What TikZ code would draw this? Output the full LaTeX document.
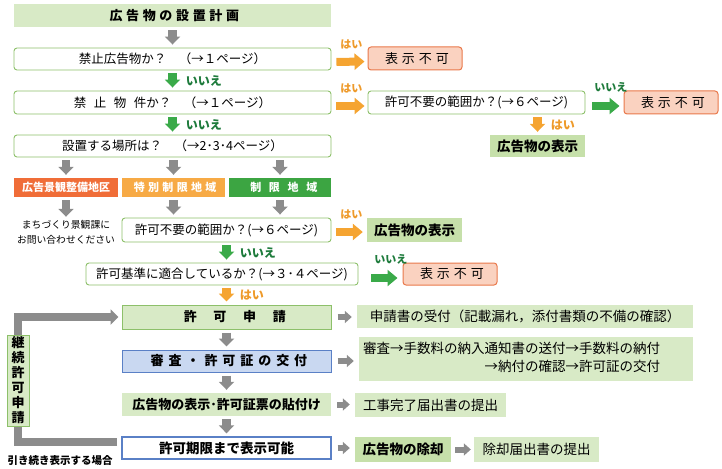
\documentclass[tikz,border=0pt]{standalone}
\usepackage{fontspec}
\setmainfont{Noto Sans CJK JP}
\usepackage{xcolor}
\definecolor{panel-green}{HTML}{D8EAC6}
\definecolor{panel-deep}{HTML}{C6E0AA}
\definecolor{ask-line}{HTML}{8DC06A}
\definecolor{deny-fill}{HTML}{FAD2C0}
\definecolor{deny-line}{HTML}{E9784A}
\definecolor{zone-red}{HTML}{F06D38}
\definecolor{zone-orange}{HTML}{F7AA45}
\definecolor{zone-green}{HTML}{3CA542}
\definecolor{flow-gray}{HTML}{8C8C8C}
\definecolor{flow-orange}{HTML}{F5A431}
\definecolor{flow-green}{HTML}{3AAA49}
\definecolor{tag-green}{HTML}{1E7B3C}
\definecolor{tag-orange}{HTML}{EE9A2A}
\definecolor{check-fill}{HTML}{C9D8F1}
\definecolor{check-line}{HTML}{5A80C6}
\usepackage{tikz}
\usetikzlibrary{arrows.meta}

% letter spaced text, trailing space taken back
\newcommand\spread[2]{{\addfontfeature{LetterSpace=#1}#2\kern-\dimexpr 1em*#1/100\relax}}
\newcommand\fs[1]{\fontsize{#1}{#1}\selectfont}

\tikzset{
  title-box/.style={fill=panel-green, minimum width=317pt, minimum height=23pt, inner sep=0pt, font=\fs{13}\bfseries},
  ask/.style={draw=ask-line, line width=0.9pt, fill=white, rounded corners=3pt, minimum height=22pt, inner sep=0pt, font=\fs{12.5}},
  deny/.style={draw=deny-line, line width=1pt, fill=deny-fill, rounded corners=3pt, minimum width=94pt, minimum height=23pt, inner sep=0pt, font=\fs{13}},
  shown/.style={fill=panel-deep, minimum width=95pt, minimum height=22pt, inner sep=0pt, font=\fs{13.5}\bfseries},
  zone/.style={minimum width=103pt, minimum height=19pt, inner sep=0pt, text=white, font=\fs{11}\bfseries},
  stage/.style={minimum width=209pt, minimum height=23pt, inner sep=0pt, font=\fs{13}\bfseries},
  memo/.style={fill=panel-green, minimum height=24pt, inner sep=0pt, font=\fs{13.5}},
  down-gray/.style={draw=flow-gray, line width=8.5pt, -{Triangle[length=8pt,width=15pt]}, shorten <=3pt, shorten >=3pt},
  down-green/.style={down-gray, draw=flow-green},
  down-orange/.style={down-gray, draw=flow-orange},
  side-orange/.style={draw=flow-orange, line width=8pt, -{Triangle[length=10pt,width=16pt]}, shorten <=5pt, shorten >=3pt},
  side-green/.style={side-orange, draw=flow-green},
  side-gray/.style={draw=flow-gray, line width=6pt, -{Triangle[length=7pt,width=12pt]}, shorten <=6pt, shorten >=5pt},
  yes-tag/.style={text=tag-orange, inner sep=0pt, font=\fs{11}\bfseries},
  no-tag/.style={text=tag-green, inner sep=0pt, font=\fs{11}\bfseries},
}

\begin{document}
\begin{tikzpicture}[x=1pt, y=-1pt]

    \useasboundingbox (0,0) rectangle (722,468);

    % Title
    \node[title-box] (plan) at (172.5,15.5) {\spread{28}{広告物の設置計画}};

    % Questions
    \node[ask, minimum width=317pt] (banned-ad) at (172.5,59) {禁止広告物か？　（→１ページ）};
    \node[ask, minimum width=317pt, minimum height=23pt] (banned-item) at (172.5,102.5) {{\addfontfeature{LetterSpace=60}禁止物件}か？　（→１ページ）};
    \node[ask, minimum width=317pt] (site) at (172.5,146) {設置する場所は？　（→2･3･4ページ）};
    \node[ask, minimum width=217pt, minimum height=23pt] (exempt-a) at (476.5,102.5) {許可不要の範囲か？(→６ページ)};
    \node[ask, minimum width=209pt, minimum height=24pt] (exempt-b) at (226.5,230) {許可不要の範囲か？(→６ページ)};
    \node[ask, minimum width=272pt] (criteria) at (222,274) {許可基準に適合しているか？(→３･４ページ)};

    % Results
    \node[deny] (deny-a) at (415,58.5) {\spread{30}{表示不可}};
    \node[deny] (deny-b) at (671,102.5) {\spread{30}{表示不可}};
    \node[deny, minimum height=22pt] (deny-c) at (450,274) {\spread{30}{表示不可}};
    \node[shown] (shown-a) at (537.5,146) {広告物の表示};
    \node[shown, minimum height=24pt] (shown-b) at (414.5,230) {広告物の表示};

    % Zones
    \node[zone, fill=zone-red, minimum width=104pt] (zone-a) at (66,187.5) {広告景観整備地区};
    \node[zone, fill=zone-orange] (zone-b) at (173.5,187.5) {\spread{30}{特別制限地域}};
    \node[zone, fill=zone-green, minimum width=102pt] (zone-c) at (280,187.5) {\spread{70}{制限地域}};
    \node[align=center, inner sep=0pt, font=\fontsize{9.8}{15}\selectfont] (ask-city) at (66,232) {まちづくり景観課に\\お問い合わせください};

    % Permit steps
    \node[stage, fill=panel-green, draw=ask-line, line width=1pt, minimum height=24pt] (permit-req) at (226.5,317) {\spread{128}{許可申請}};
    \node[stage, fill=check-fill, draw=check-line, line width=1pt, minimum height=22pt] (review) at (226.5,361) {\spread{38}{審査・許可証の交付}};
    \node[stage, fill=panel-green] (posting) at (226.5,404.5) {広告物の表示･許可証票の貼付け};
    \node[stage, fill=white, draw=check-line, line width=1.3pt, minimum height=22pt, font=\fs{13.5}\bfseries] (until) at (226.5,448) {許可期限まで表示可能};

    % Notes on the right
    \node[memo, minimum width=336pt, minimum height=23pt] (intake) at (525,316.5) {申請書の受付（記載漏れ，添付書類の不備の確認）};
    \node[memo, text width=326pt, inner xsep=4pt, minimum height=44pt, align=left, font=\fontsize{13.5}{18.5}\selectfont] (fee-steps) at (526,359)
      {\begin{tabular}{@{}r@{}}審査→手数料の納入通知書の送付→手数料の納付\\→納付の確認→許可証の交付\end{tabular}};
    \node[memo, minimum width=151pt] (done) at (430.5,405) {工事完了届出書の提出};
    \node[memo, fill=panel-deep, minimum width=96pt, minimum height=25pt, font=\fs{13.5}\bfseries] (removal) at (403,449.5) {広告物の除却};
    \node[memo, minimum width=125pt, minimum height=25pt] (removal-doc) at (536.5,449.5) {除却届出書の提出};

    % Main column arrows
    \draw[down-gray] (plan) -- (banned-ad);
    \draw[down-green] (banned-ad) -- (banned-item) node[no-tag, font=\fs{12}\bfseries, midway, right=9pt] {いいえ};
    \draw[down-green] (banned-item) -- (site) node[no-tag, font=\fs{12}\bfseries, midway, right=9pt] {いいえ};
    \draw[down-gray] (site.south -| zone-a.north) -- (zone-a);
    \draw[down-gray] (site.south -| zone-b.north) -- (zone-b);
    \draw[down-gray] (site.south -| zone-c.north) -- (zone-c);
    \draw[down-gray] (zone-a) -- (ask-city);
    \draw[down-gray] (zone-b.south) -- (zone-b.south |- exempt-b.north);
    \draw[down-gray] (zone-c.south) -- (zone-c.south |- exempt-b.north);
    \draw[down-green] (exempt-b.south) -- (exempt-b.south |- criteria.north) node[no-tag, font=\fs{12}\bfseries, midway, right=9pt] {いいえ};
    \draw[down-orange] (permit-req.north |- criteria.south) -- (permit-req) node[yes-tag, font=\fs{12}\bfseries, midway, right=9pt] {はい};
    \draw[down-gray] (permit-req) -- (review);
    \draw[down-gray] (review) -- (posting);
    \draw[down-gray] (posting) -- (until);

    % Side arrows
    \draw[side-orange] ([yshift=-3pt]banned-ad.east) -- ([yshift=-3pt]deny-a.west) node[yes-tag, pos=0, anchor=south west, xshift=5pt, yshift=9pt] {はい};
    \draw[side-orange] ([yshift=-3.5pt]banned-item.east) -- ([yshift=-3.5pt]exempt-a.west) node[yes-tag, pos=0, anchor=south west, xshift=5pt, yshift=9pt] {はい};
    \draw[side-green, shorten <=7pt, shorten >=4pt] ([yshift=-3.5pt]exempt-a.east) -- ([yshift=-3.5pt]deny-b.west) node[no-tag, pos=0, anchor=south west, xshift=5pt, yshift=10pt] {いいえ};
    \draw[down-orange] (exempt-a.south -| shown-a.north) -- (shown-a) node[yes-tag, font=\fs{12}\bfseries, midway, right=9pt] {はい};
    \draw[side-orange, shorten >=4pt] ([yshift=-2pt]exempt-b.east) -- ([yshift=-2pt]shown-b.west) node[yes-tag, pos=0, anchor=south west, xshift=5pt, yshift=9pt] {はい};
    \draw[side-green, shorten <=13pt, shorten >=5pt] ([yshift=-4pt]criteria.east) -- ([yshift=-4pt]deny-c.west) node[no-tag, pos=0, anchor=south west, xshift=12pt, yshift=10pt] {いいえ};
    \draw[side-gray] (permit-req) -- (permit-req -| intake.west);
    \draw[side-gray] (review.east) -- (review.east -| fee-steps.west);
    \draw[side-gray] (posting.east) -- (posting.east -| done.west);
    \draw[side-gray] (until.east) -- (until.east -| removal.west);
    \draw[side-gray, shorten <=4pt, shorten >=3pt] (removal) -- (removal-doc);

    % Renewal loop
    \coordinate (renew-end) at (117,442);
    \coordinate (spine) at (18,380.5);
    \draw[draw=flow-gray, line width=8pt, -{Triangle[length=8pt,width=15pt]}, shorten >=3pt] (renew-end) -| (spine) |- (permit-req);
    \node[fill=panel-green, draw=ask-line, line width=1pt, minimum width=22pt, minimum height=91pt, inner sep=0pt, align=center, font=\fontsize{13}{15}\selectfont\bfseries] (renew) at (spine) {継\\続\\許\\可\\申\\請};
    \node[inner sep=0pt, font=\fs{10.5}\bfseries] (renew-note) at (60,461) {引き続き表示する場合};

\end{tikzpicture}
\end{document}
